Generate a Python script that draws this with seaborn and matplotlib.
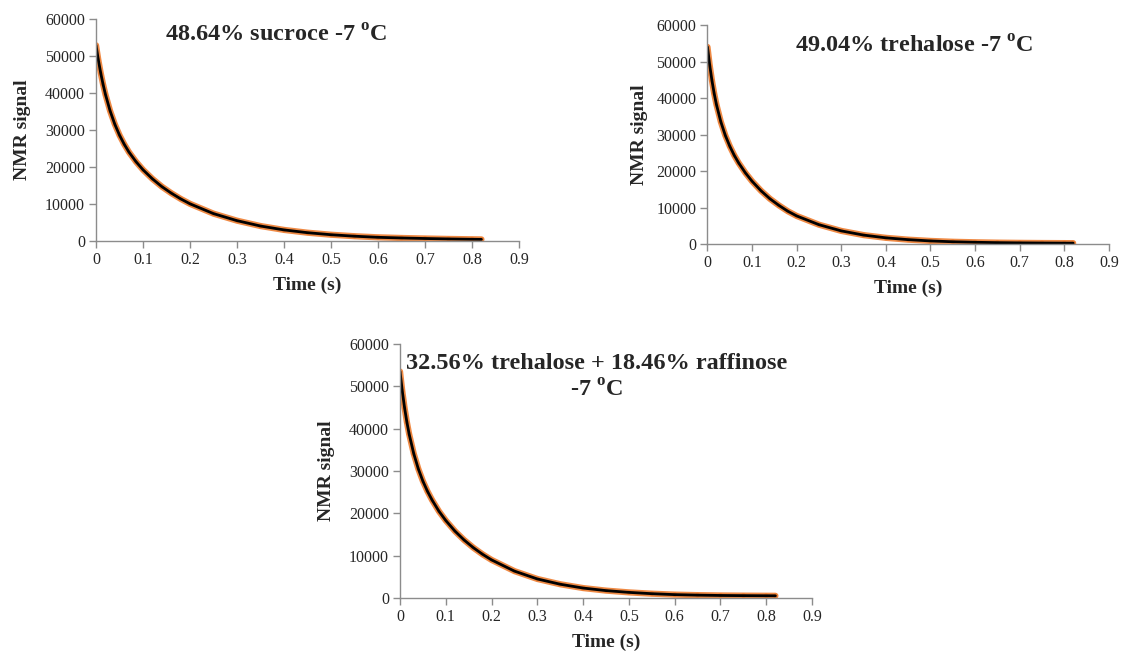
import matplotlib
matplotlib.use("Agg")
import matplotlib.pyplot as plt
import seaborn as sns
import pandas as pd

# ---- data ----
titles = [
    "48.64% sucroce -7 $^{\\mathregular{o}}$C",
    "49.04% trehalose -7 $^{\\mathregular{o}}$C",
    "32.56% trehalose + 18.46% raffinose\n-7 $^{\\mathregular{o}}$C",
]

time_sucrose = [0, 0.005, 0.01, 0.015, 0.02, 0.03, 0.04, 0.05, 0.06, 0.07, 0.085, 0.1, 0.12, 0.14,
                0.16, 0.18, 0.2, 0.25, 0.3, 0.35, 0.4, 0.45, 0.5, 0.55, 0.6, 0.65, 0.7, 0.75, 0.8, 0.82]
signal_sucrose = [52900, 48900, 45400, 42350, 39650, 35150, 31550, 28600, 26150, 24050, 21450, 19250, 16800, 14700,
                  12950, 11400, 10050, 7400, 5500, 4050, 3000, 2250, 1700, 1300, 1000, 820, 680, 560, 470, 440]

time_trehalose = [0, 0.005, 0.01, 0.015, 0.02, 0.03, 0.04, 0.05, 0.06, 0.07, 0.085, 0.1, 0.12, 0.14,
                  0.16, 0.18, 0.2, 0.25, 0.3, 0.35, 0.4, 0.45, 0.5, 0.55, 0.6, 0.65, 0.7, 0.75, 0.8, 0.82]
signal_trehalose = [54000, 48950, 44800, 41250, 38250, 33450, 29750, 26800, 24300, 22200, 19500, 17200, 14600, 12400,
                    10600, 9000, 7700, 5300, 3600, 2450, 1700, 1200, 850, 620, 480, 380, 320, 280, 250, 240]

time_mix = [0, 0.005, 0.01, 0.015, 0.02, 0.03, 0.04, 0.05, 0.06, 0.07, 0.085, 0.1, 0.12, 0.14,
            0.16, 0.18, 0.2, 0.25, 0.3, 0.35, 0.4, 0.45, 0.5, 0.55, 0.6, 0.65, 0.7, 0.75, 0.8, 0.82]
signal_mix = [53500, 48850, 44900, 41550, 38700, 34100, 30500, 27600, 25200, 23150, 20500, 18300, 15800, 13700,
              11900, 10350, 9000, 6350, 4500, 3250, 2350, 1750, 1330, 1020, 800, 680, 600, 560, 530, 520]

x_ticks = [0, 0.1, 0.2, 0.3, 0.4, 0.5, 0.6, 0.7, 0.8, 0.9]
y_ticks = [0, 10000, 20000, 30000, 40000, 50000, 60000]
x_label = "Time (s)"
y_label = "NMR signal"

# ---- style ----
sns.set_theme(style="white")
plt.rcParams["font.family"] = ["Liberation Serif", "DejaVu Serif"]
plt.rcParams["mathtext.fontset"] = "custom"
plt.rcParams["mathtext.rm"] = "Liberation Serif:bold"

fig = plt.figure(figsize=(11.23, 6.56), dpi=100)

rects = [
    [0.0855, 0.6326, 0.3767, 0.3384],
    [0.6300, 0.6280, 0.3574, 0.3338],
    [0.3562, 0.0884, 0.3669, 0.3872],
]
title_pos = [(0.4255, 0.925), (0.514, 0.900), (0.478, 0.868)]
ylabel_pads = [10, 6, 10]

series = [
    (time_sucrose, signal_sucrose),
    (time_trehalose, signal_trehalose),
    (time_mix, signal_mix),
]

orange = "#ED7D31"
for i, (rect, (t, s)) in enumerate(zip(rects, series)):
    ax = fig.add_axes(rect)
    df = pd.DataFrame({"t": t, "s": s})
    sns.lineplot(data=df, x="t", y="s", ax=ax, color=orange, linewidth=4.5, alpha=0.9)
    sns.scatterplot(data=df, x="t", y="s", ax=ax, color=orange, s=12, edgecolor="none")
    sns.lineplot(data=df, x="t", y="s", ax=ax, color="black", linewidth=2.0)
    ax.set_xlim(0, 0.9)
    ax.set_ylim(0, 60000)
    ax.set_xticks(x_ticks)
    ax.set_xticklabels([f"{v:g}" for v in x_ticks])
    ax.set_yticks(y_ticks)
    ax.set_yticklabels([str(v) for v in y_ticks])
    for sp in ["top", "right"]:
        ax.spines[sp].set_visible(False)
    for sp in ["left", "bottom"]:
        ax.spines[sp].set_color("#8c8c8c")
        ax.spines[sp].set_linewidth(1.0)
    ax.tick_params(axis="both", which="major", direction="out", length=5, width=1.0,
                   color="#8c8c8c", labelsize=11.5, labelcolor="#262626", pad=3,
                   bottom=True, left=True)
    ax.set_xlabel(x_label, fontsize=14, fontweight="bold", labelpad=6)
    ax.set_ylabel(y_label, fontsize=14, fontweight="bold", labelpad=ylabel_pads[i])
    ax.text(title_pos[i][0], title_pos[i][1], titles[i], transform=ax.transAxes,
            ha="center", va="center", fontsize=17.5, fontweight="bold",
            linespacing=1.3)
    ax.grid(False)

fig.savefig("out.png", dpi=100)
